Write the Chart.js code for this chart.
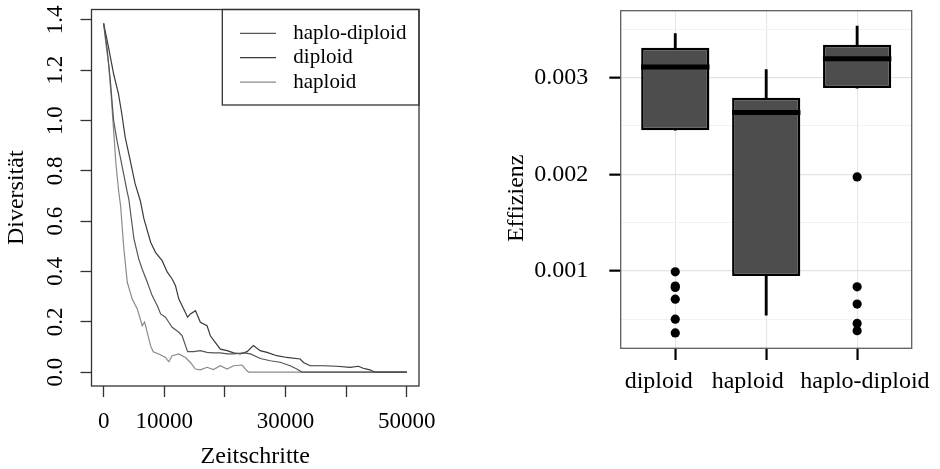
<!DOCTYPE html>
<html>
<head>
<meta charset="utf-8">
<script src="https://cdn.jsdelivr.net/npm/chart.js@4/dist/chart.umd.min.js"></script>
<style>
    html, body { margin: 0; padding: 0; background: #fff; }
    #wrap { position: relative; width: 940px; height: 469px; }
    .panel { position: absolute; top: 0; width: 470px; height: 469px; }
</style>
</head>
<body>
<div id="wrap">
    <div class="panel" style="left:0"><canvas id="diversity_chart" width="470" height="469"></canvas></div>
    <div class="panel" style="left:470px"><canvas id="efficiency_chart" width="470" height="469"></canvas></div>
</div>
<script>
// Left plot: diversity per time step
const seriesNames = ['haplo-diploid', 'diploid', 'haploid']
const seriesColors = ['#555555', '#3a3a3a', '#8a8a8a']

const stepsHaploDiploid = [0, 550, 1100, 1650, 2200, 2750, 3300, 3850, 4150, 5000, 5800, 6350, 7200, 8000, 8850, 9400, 10200, 10750, 11300, 12400, 12950, 13500, 13850, 14850, 15950, 17050, 18150, 19250, 20350, 21450, 23100, 24200, 25850, 27450, 29100, 30750, 31850, 32700, 50000]
const diversityHaploDiploid = [1.386, 1.29, 1.16, 1.0, 0.92, 0.854, 0.788, 0.72, 0.688, 0.529, 0.449, 0.41, 0.357, 0.304, 0.264, 0.231, 0.218, 0.198, 0.178, 0.158, 0.144, 0.105, 0.081, 0.081, 0.085, 0.078, 0.076, 0.076, 0.072, 0.072, 0.076, 0.072, 0.054, 0.045, 0.039, 0.025, 0.012, 0, 0]

const stepsDiploid = [0, 800, 1650, 2450, 3000, 3550, 4400, 5200, 6050, 6650, 7750, 8550, 9650, 10500, 11300, 11850, 12400, 13200, 13850, 14300, 15150, 15950, 17050, 17600, 18400, 19250, 20350, 21450, 22550, 23650, 24700, 25800, 26950, 28550, 30200, 32400, 32950, 34050, 36250, 38450, 40650, 42000, 42800, 43900, 44450, 44800, 50000]
const diversityDiploid = [1.386, 1.292, 1.185, 1.106, 1.026, 0.934, 0.84, 0.748, 0.681, 0.609, 0.516, 0.476, 0.443, 0.397, 0.37, 0.343, 0.29, 0.251, 0.218, 0.231, 0.244, 0.198, 0.184, 0.144, 0.118, 0.091, 0.085, 0.076, 0.072, 0.081, 0.105, 0.085, 0.078, 0.065, 0.058, 0.052, 0.038, 0.025, 0.025, 0.023, 0.019, 0.023, 0.015, 0.009, 0.003, 0, 0]

const stepsHaploid = [0, 400, 820, 1260, 1650, 2030, 2470, 2800, 3340, 3900, 4720, 5550, 6370, 6750, 7190, 7730, 8180, 9100, 10200, 10740, 11300, 12390, 13490, 14310, 15130, 15960, 17060, 18100, 19250, 20350, 21440, 22820, 23640, 23900, 50000]
const diversityHaploid = [1.386, 1.3, 1.225, 1.093, 0.96, 0.827, 0.721, 0.66, 0.489, 0.357, 0.29, 0.251, 0.184, 0.199, 0.158, 0.105, 0.081, 0.072, 0.058, 0.041, 0.065, 0.072, 0.058, 0.038, 0.012, 0.009, 0.019, 0.01, 0.025, 0.012, 0.025, 0.028, 0.005, 0, 0]

const timeTicks = [0, 10000, 20000, 30000, 40000, 50000]
const timeTickLabels = ['0', '10000', '', '30000', '', '50000']
const diversityTicks = [0, 0.2, 0.4, 0.6, 0.8, 1.0, 1.2, 1.4]
const diversityTickLabels = ['0.0', '0.2', '0.4', '0.6', '0.8', '1.0', '1.2', '1.4']

// Right plot: efficiency box plot
const categories = ['diploid', 'haploid', 'haplo-diploid']
const whiskerLow = [0.002455, 0.000542, 0.002892]
const lowerQuartile = [0.002455, 0.000946, 0.002892]
const medians = [0.00311, 0.002638, 0.003196]
const upperQuartile = [0.00331, 0.002793, 0.003341]
const whiskerHigh = [0.003455, 0.003083, 0.003534]
const outliers = [
    [0.00099, 0.000842, 0.000828, 0.000707, 0.0005, 0.000357],
    [],
    [0.001972, 0.000835, 0.000656, 0.000456, 0.00038]
]
const efficiencyTicks = [0.001, 0.002, 0.003]
const efficiencyMinorTicks = [0.0005, 0.0015, 0.0025, 0.0035]

Chart.defaults.font.family = '"Liberation Serif", "Times New Roman", serif'
Chart.defaults.color = '#000'

// no automatic padding from the tick labels, the plot areas are placed by hand
const noScalePadding = s => {
    s.paddingTop = 0
    s.paddingBottom = 0
    s.paddingLeft = 0
    s.paddingRight = 0
}

// R style: 4% padding around the data range
const diversityMax = Math.max(...diversityHaploDiploid, ...diversityDiploid, ...diversityHaploid)

const curves = [
    [stepsHaploDiploid, diversityHaploDiploid],
    [stepsDiploid, diversityDiploid],
    [stepsHaploid, diversityHaploid]
]

// Box around the plot and legend in the top right corner, like base R
const rBoxPlugin = {
    id: 'rBox',
    afterDatasetsDraw(chart) {
        const {ctx, chartArea: a} = chart
        ctx.save()
        ctx.lineWidth = 1.3
        ctx.strokeStyle = '#333'
        ctx.strokeRect(a.left, a.top, a.right - a.left, a.bottom - a.top)
        const lx = 222.3
        ctx.strokeRect(lx, a.top, a.right - lx, 95.5)
        ctx.font = '21px "Liberation Serif"'
        ctx.textBaseline = 'middle'
        ctx.fillStyle = '#000'
        chart.data.datasets.forEach((ds, i) => {
            const y = a.top + 23.8 + i * 24.4
            ctx.strokeStyle = ds.borderColor
            ctx.lineWidth = 1.2
            ctx.beginPath()
            ctx.moveTo(lx + 17.7, y)
            ctx.lineTo(lx + 53.7, y)
            ctx.stroke()
            ctx.fillText(ds.label, lx + 71, y)
        })
        ctx.restore()
    }
}

new Chart(document.getElementById('diversity_chart').getContext('2d'), {
    type: 'line',
    data: {
        datasets: seriesNames.map((name, i) => ({
            label: name,
            data: curves[i][0].map((t, j) => ({x: t, y: curves[i][1][j]})),
            borderColor: seriesColors[i],
            borderWidth: 1.2,
            pointRadius: 0,
            tension: 0,
            fill: false
        }))
    },
    options: {
        responsive: false,
        animation: false,
        events: [],
        layout: {autoPadding: false, padding: {top: 9.5, right: 51, left: 0, bottom: 0}},
        scales: {
            x: {
                type: 'linear',
                min: -0.04 * 50000,
                max: 1.04 * 50000,
                afterFit: s => { s.height = 83; noScalePadding(s) },
                afterBuildTicks: s => { s.ticks = timeTicks.map(v => ({value: v})) },
                border: {display: false},
                grid: {drawOnChartArea: false, drawTicks: true, tickLength: 11, tickColor: '#333', tickWidth: 1.3},
                ticks: {
                    autoSkip: false,
                    maxRotation: 0,
                    padding: 11.4,
                    font: {size: 23},
                    callback: (v, i) => timeTickLabels[i]
                },
                title: {display: true, text: 'Zeitschritte', font: {size: 24, lineHeight: 1}, padding: {top: 0, bottom: 0}}
            },
            y: {
                min: -0.04 * diversityMax,
                max: 1.04 * diversityMax,
                afterFit: s => { s.width = 91.5; noScalePadding(s) },
                afterBuildTicks: s => { s.ticks = diversityTicks.map(v => ({value: v})) },
                border: {display: false},
                grid: {drawOnChartArea: false, drawTicks: true, tickLength: 11, tickColor: '#333', tickWidth: 1.3},
                ticks: {
                    autoSkip: false,
                    minRotation: 90,
                    maxRotation: 90,
                    crossAlign: 'center',
                    padding: 10.6,
                    font: {size: 23},
                    callback: (v, i) => diversityTickLabels[i]
                },
                title: {display: true, text: 'Diversität', font: {size: 24, lineHeight: 1}, padding: {top: 5, bottom: 0}}
            }
        },
        plugins: {
            legend: {display: false},
            tooltip: {enabled: false}
        }
    },
    plugins: [rBoxPlugin]
})

// ggplot2 style panel: expansion of 5% on the value axis, 0.6 on the categories
const allEfficiency = [...whiskerLow, ...whiskerHigh, ...outliers.flat()]
const effLo = Math.min(...allEfficiency)
const effHi = Math.max(...allEfficiency)
const effPad = 0.05 * (effHi - effLo)

// the original's category labels sit a little off their ticks
const categoryLabelShift = [-16.6, -18.5, 7.8]

const panelPlugin = {
    id: 'panel',
    afterDraw(chart) {
        const {ctx, chartArea: a, scales} = chart
        ctx.save()
        ctx.lineWidth = 1.3
        ctx.strokeStyle = '#5e5e5e'
        ctx.strokeRect(a.left, a.top, a.right - a.left, a.bottom - a.top)
        ctx.font = '24px "Liberation Serif"'
        ctx.fillStyle = '#000'
        ctx.textAlign = 'center'
        ctx.textBaseline = 'alphabetic'
        categories.forEach((c, i) => {
            ctx.fillText(c, scales.x.getPixelForValue(i) + categoryLabelShift[i], a.bottom + 39.7)
        })
        // y axis title, placed where the original has it
        ctx.translate(46.9, 198.3)
        ctx.rotate(-Math.PI / 2)
        ctx.textBaseline = 'middle'
        ctx.fillText('Effizienz', 0, 0)
        ctx.restore()
    }
}

new Chart(document.getElementById('efficiency_chart').getContext('2d'), {
    type: 'bar',
    data: {
        datasets: [
            {
                type: 'scatter',
                label: 'Ausreißer',
                order: 0,
                data: outliers.flatMap((vals, i) => vals.map(v => ({x: i, y: v}))),
                pointRadius: 4.6,
                pointBackgroundColor: '#000',
                pointBorderWidth: 0
            },
            {
                type: 'scatter',
                label: 'Median',
                order: 1,
                data: medians.map((v, i) => ({x: i, y: v})),
                pointStyle: 'line',
                pointRadius: 34.2,
                pointBorderWidth: 5,
                pointBorderColor: '#000'
            },
            {
                label: 'Box',
                order: 2,
                grouped: false,
                data: categories.map((c, i) => ({x: i, y: [lowerQuartile[i], upperQuartile[i]]})),
                backgroundColor: '#4d4d4d',
                borderColor: '#000',
                borderWidth: 2.5,
                borderSkipped: false,
                categoryPercentage: 1,
                barPercentage: 0.75
            },
            {
                label: 'Whisker oben',
                order: 3,
                grouped: false,
                data: categories.map((c, i) => ({x: i, y: [upperQuartile[i], whiskerHigh[i]]})),
                backgroundColor: '#000',
                borderWidth: 0,
                barThickness: 2.2
            },
            {
                label: 'Whisker unten',
                order: 3,
                grouped: false,
                data: categories.map((c, i) => ({x: i, y: [whiskerLow[i], lowerQuartile[i]]})),
                backgroundColor: '#000',
                borderWidth: 0,
                barThickness: 2.2
            }
        ]
    },
    options: {
        responsive: false,
        animation: false,
        events: [],
        layout: {autoPadding: false, padding: {top: 10.7, right: 28.3, left: 0, bottom: 0}},
        scales: {
            x: {
                type: 'linear',
                offset: false,
                min: -0.6,
                max: categories.length - 0.4,
                afterFit: s => { s.height = 120.7; noScalePadding(s) },
                afterBuildTicks: s => { s.ticks = categories.map((c, i) => ({value: i})) },
                border: {display: false},
                grid: {offset: false, color: '#e6e6e6', lineWidth: 1.1, tickLength: 11.7, tickColor: '#000', tickWidth: 2.2},
                ticks: {display: false}
            },
            y: {
                beginAtZero: false,
                min: effLo - effPad,
                max: effHi + effPad,
                afterFit: s => { s.width = 150.7; noScalePadding(s) },
                afterBuildTicks: s => {
                    s.ticks = [...efficiencyMinorTicks, ...efficiencyTicks].sort((a, b) => a - b).map(v => ({value: v}))
                },
                border: {display: false},
                grid: {
                    color: c => efficiencyTicks.includes(c.tick.value) ? '#e3e3e3' : '#f3f3f3',
                    lineWidth: c => efficiencyTicks.includes(c.tick.value) ? 1.3 : 1,
                    tickLength: 11.4,
                    tickColor: c => efficiencyTicks.includes(c.tick.value) ? '#000' : 'rgba(0,0,0,0)',
                    tickWidth: 2.2
                },
                ticks: {
                    autoSkip: false,
                    padding: 21,
                    font: {size: 24},
                    callback: v => efficiencyTicks.includes(v) ? v.toFixed(3) : ''
                }
            }
        },
        plugins: {
            legend: {display: false},
            tooltip: {enabled: false}
        }
    },
    plugins: [panelPlugin]
})
</script>
</body>
</html>
